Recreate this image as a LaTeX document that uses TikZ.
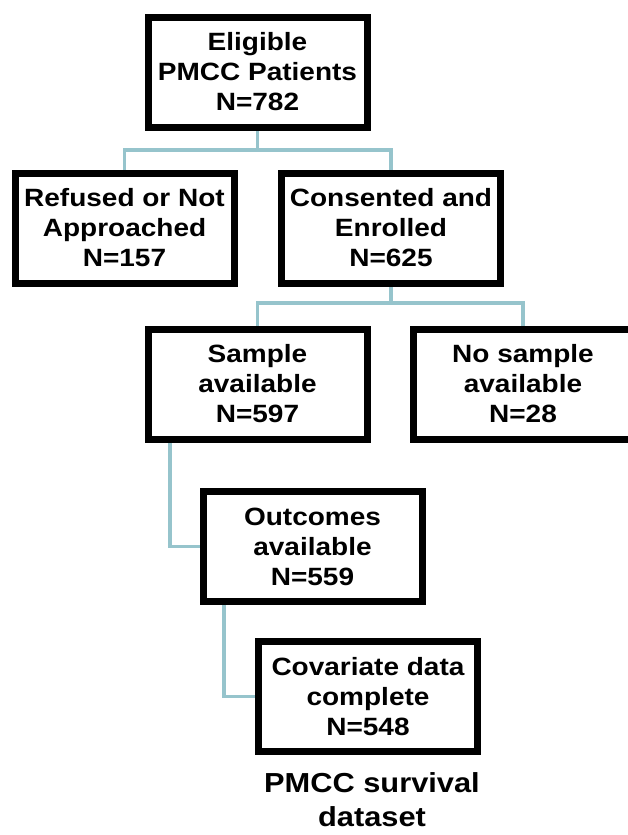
\documentclass[tikz,border=0pt]{standalone}
\usepackage{fontspec}
\setmainfont{Liberation Sans}[FakeStretch=1.12]
\usetikzlibrary{backgrounds}
\definecolor{connteal}{RGB}{150,196,204}
\tikzset{
  stepbox/.style={draw=black, line width=7pt, fill=white, inner sep=0pt,
    minimum width=219pt, minimum height=110pt, align=center,
    font=\fontsize{25}{30}\selectfont\bfseries},
  conn/.style={draw=connteal, line width=3.5pt},
  captext/.style={align=center, inner sep=0pt, font=\fontsize{27.5}{34}\selectfont\bfseries}
}
\begin{document}
\begin{tikzpicture}[x=1pt, y=-1pt]
\useasboundingbox (0,0) rectangle (628,835);
\node[stepbox] (b1) at (257.5,72) {Eligible\\PMCC Patients\\N=782};
\node[stepbox] (b2) at (124.5,228) {Refused or Not\\Approached\\N=157};
\node[stepbox] (b3) at (391,228) {Consented and\\Enrolled\\N=625};
\node[stepbox] (b4) at (257.5,384) {Sample\\available\\N=597};
\node[stepbox] (b5) at (523,384) {No sample\\available\\N=28};
\node[stepbox] (b6) at (312.5,546.5) {Outcomes\\available\\N=559};
\node[stepbox] (b7) at (368,696.5) {Covariate data\\complete\\N=548};
\node[captext] (cap) at (372,800) {PMCC survival\\dataset};
\coordinate (j1) at (257.5,150);
\coordinate (j2) at (391,303);
\coordinate (a3) at (170,0);
\coordinate (a4) at (224,0);
\begin{scope}[on background layer]
\draw[conn] (b1.south) -- (j1);
\draw[conn] (j1) -| (b2.north);
\draw[conn] (j1) -| (b3.north);
\draw[conn] (b3.south) -- (j2);
\draw[conn] (j2) -| (b4.north);
\draw[conn] (j2) -| (b5.north);
\draw[conn] (b4.south -| a3) |- (b6.west);
\draw[conn] (b6.south -| a4) |- (b7.west);
\end{scope}
\end{tikzpicture}
\end{document}
